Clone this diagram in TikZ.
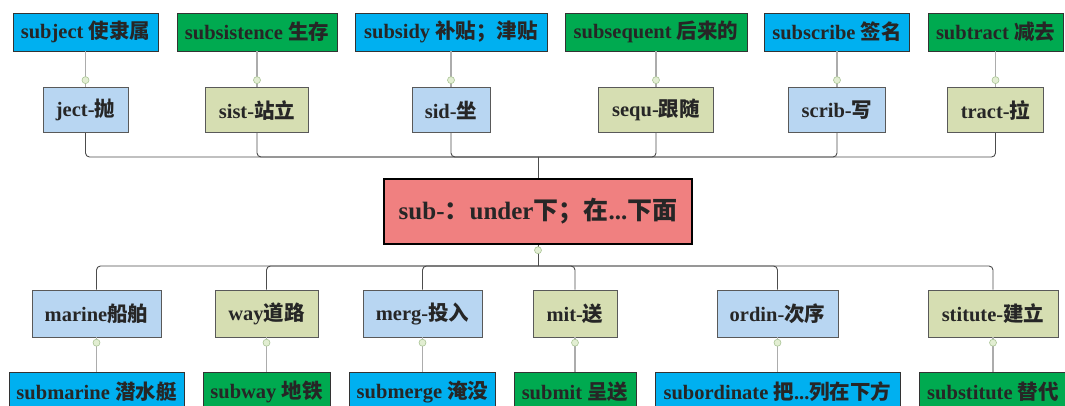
\documentclass[tikz,border=0pt]{standalone}
\usepackage{fontspec}
\setmainfont{Liberation Serif}
\newfontfamily\cjk{Noto Sans CJK SC}
\newcommand{\zh}[1]{{\cjk #1}}
\usetikzlibrary{positioning}
\definecolor{leafblue}{RGB}{0,176,240}
\definecolor{leafgreen}{RGB}{0,170,80}
\definecolor{stemblue}{RGB}{184,214,242}
\definecolor{stemolive}{RGB}{214,222,178}
\definecolor{rootred}{RGB}{240,128,128}
\definecolor{knobgreen}{RGB}{226,238,210}
\definecolor{knobline}{RGB}{170,196,150}

\begin{document}
\begin{tikzpicture}[x=1pt,y=-1pt]

		\tikzstyle{leaf} = [rectangle, draw=black!80, line width=0.8pt, inner xsep=2pt, minimum height=38pt, font=\fontsize{20.5}{24}\selectfont\bfseries, text=black!85]
		\tikzstyle{stem} = [rectangle, draw=black!65, line width=0.8pt, inner xsep=2pt, font=\fontsize{20.5}{24}\selectfont\bfseries, text=black!85]
		\tikzstyle{rootbox} = [rectangle, draw=black, line width=1.8pt, fill=rootred, minimum width=308pt, minimum height=65pt, font=\fontsize{25}{30}\selectfont\bfseries, text=black!85]
		\tikzstyle{knob} = [circle, draw=knobline, fill=knobgreen, line width=0.6pt, inner sep=0pt, minimum size=7pt]
		\tikzstyle{leaflink} = [draw=gray!65, line width=1.5pt]
		\tikzstyle{bus} = [draw=black!70, line width=0.9pt, rounded corners=4pt]

		\useasboundingbox (0,0) rectangle (1065,405);

		% top row
		\node [leaf,fill=leafblue,minimum width=145pt] (t1) at (85.5,32) {subject \zh{使隶属}};
		\node [leaf,fill=leafgreen,minimum width=160pt] (t2) at (257,32) {subsistence \zh{生存}};
		\node [leaf,fill=leafblue,minimum width=192pt] (t3) at (451,32) {subsidy \zh{补贴；津贴}};
		\node [leaf,fill=leafgreen,minimum width=182pt] (t4) at (656,32) {subsequent \zh{后来的}};
		\node [leaf,fill=leafblue,minimum width=145pt] (t5) at (837,32) {subscribe \zh{签名}};
		\node [leaf,fill=leafgreen,minimum width=135pt] (t6) at (995.5,32) {subtract \zh{减去}};

		% roots above
		\node [stem,below=36pt of t1,fill=stemblue,minimum width=85pt,minimum height=45pt] (b1) {ject-\zh{抛}};
		\node [stem,below=36pt of t2,fill=stemolive,minimum width=103pt,minimum height=45pt] (b2) {sist-\zh{站立}};
		\node [stem,below=36pt of t3,fill=stemblue,minimum width=78pt,minimum height=45pt] (b3) {sid-\zh{坐}};
		\node [stem,below=36pt of t4,fill=stemolive,minimum width=115pt,minimum height=45pt] (b4) {sequ-\zh{跟随}};
		\node [stem,below=36pt of t5,fill=stemblue,minimum width=97pt,minimum height=45pt] (b5) {scrib-\zh{写}};
		\node [stem,below=36pt of t6,fill=stemolive,minimum width=96pt,minimum height=45pt] (b6) {tract-\zh{拉}};

		% centre
		\node [rootbox] (root) at (538,211.5) {sub-\zh{：}under\zh{下；在}...\zh{下面}};

		% roots below
		\node [stem,fill=stemblue,minimum width=129pt,minimum height=47pt] (c1) at (96.5,313.5) {marine\zh{船舶}};
		\node [stem,fill=stemolive,minimum width=103pt,minimum height=47pt] (c2) at (266.5,313.5) {way\zh{道路}};
		\node [stem,fill=stemblue,minimum width=119pt,minimum height=47pt] (c3) at (422.5,313.5) {merg-\zh{投入}};
		\node [stem,fill=stemolive,minimum width=84pt,minimum height=47pt] (c4) at (575,313.5) {mit-\zh{送}};
		\node [stem,fill=stemblue,minimum width=121pt,minimum height=47pt] (c5) at (777.5,313.5) {ordin-\zh{次序}};
		\node [stem,fill=stemolive,minimum width=130pt,minimum height=47pt] (c6) at (993,313.5) {stitute-\zh{建立}};

		% bottom row
		\node [leaf,below=35pt of c1,fill=leafblue,minimum width=175pt] (d1) {submarine \zh{潜水艇}};
		\node [leaf,below=35pt of c2,fill=leafgreen,minimum width=127pt] (d2) {subway \zh{地铁}};
		\node [leaf,below=35pt of c3,fill=leafblue,minimum width=146pt] (d3) {submerge \zh{淹没}};
		\node [leaf,below=35pt of c4,fill=leafgreen,minimum width=122pt] (d4) {submit \zh{呈送}};
		\node [leaf,below=35pt of c5,fill=leafblue,minimum width=245pt] (d5) {subordinate \zh{把}...\zh{列在下方}};
		\node [leaf,below=35pt of c6,fill=leafgreen,minimum width=148pt] (d6) {substitute \zh{替代}};

		% links
		\draw [leaflink] (t1.south) -- (b1.north);
		\draw [leaflink] (t2.south) -- (b2.north);
		\draw [leaflink] (t3.south) -- (b3.north);
		\draw [leaflink] (t4.south) -- (b4.north);
		\draw [leaflink] (t5.south) -- (b5.north);
		\draw [leaflink] (t6.south) -- (b6.north);

		\coordinate (topbus) at (538,157);
		\draw [bus] (b1.south) |- (topbus);
		\draw [bus] (b2.south) |- (topbus);
		\draw [bus] (b3.south) |- (topbus);
		\draw [bus] (b4.south) |- (topbus);
		\draw [bus] (b5.south) |- (topbus);
		\draw [bus] (b6.south) |- (topbus);
		\draw [bus] (topbus) -- (root.north);

		\coordinate (botbus) at (538,266);
		\draw [bus] (root.south) -- (botbus);
		\draw [bus] (botbus) -| (c1.north);
		\draw [bus] (botbus) -| (c2.north);
		\draw [bus] (botbus) -| (c3.north);
		\draw [bus] (botbus) -| (c4.north);
		\draw [bus] (botbus) -| (c5.north);
		\draw [bus] (botbus) -| (c6.north);

		\draw [leaflink] (c1.south) -- (d1.north);
		\draw [leaflink] (c2.south) -- (d2.north);
		\draw [leaflink] (c3.south) -- (d3.north);
		\draw [leaflink] (c4.south) -- (d4.north);
		\draw [leaflink] (c5.south) -- (d5.north);
		\draw [leaflink] (c6.south) -- (d6.north);

		% knobs
		\node [knob,above=3.5pt of b1.north] (kb1) {};
		\node [knob,above=3.5pt of b2.north] (kb2) {};
		\node [knob,above=3.5pt of b3.north] (kb3) {};
		\node [knob,above=3.5pt of b4.north] (kb4) {};
		\node [knob,above=3.5pt of b5.north] (kb5) {};
		\node [knob,above=3.5pt of b6.north] (kb6) {};
		\node [knob,below=1.5pt of root.south] (kroot) {};
		\node [knob,below=1.5pt of c1.south] (kc1) {};
		\node [knob,below=1.5pt of c2.south] (kc2) {};
		\node [knob,below=1.5pt of c3.south] (kc3) {};
		\node [knob,below=1.5pt of c4.south] (kc4) {};
		\node [knob,below=1.5pt of c5.south] (kc5) {};
		\node [knob,below=1.5pt of c6.south] (kc6) {};

\end{tikzpicture}
\end{document}
